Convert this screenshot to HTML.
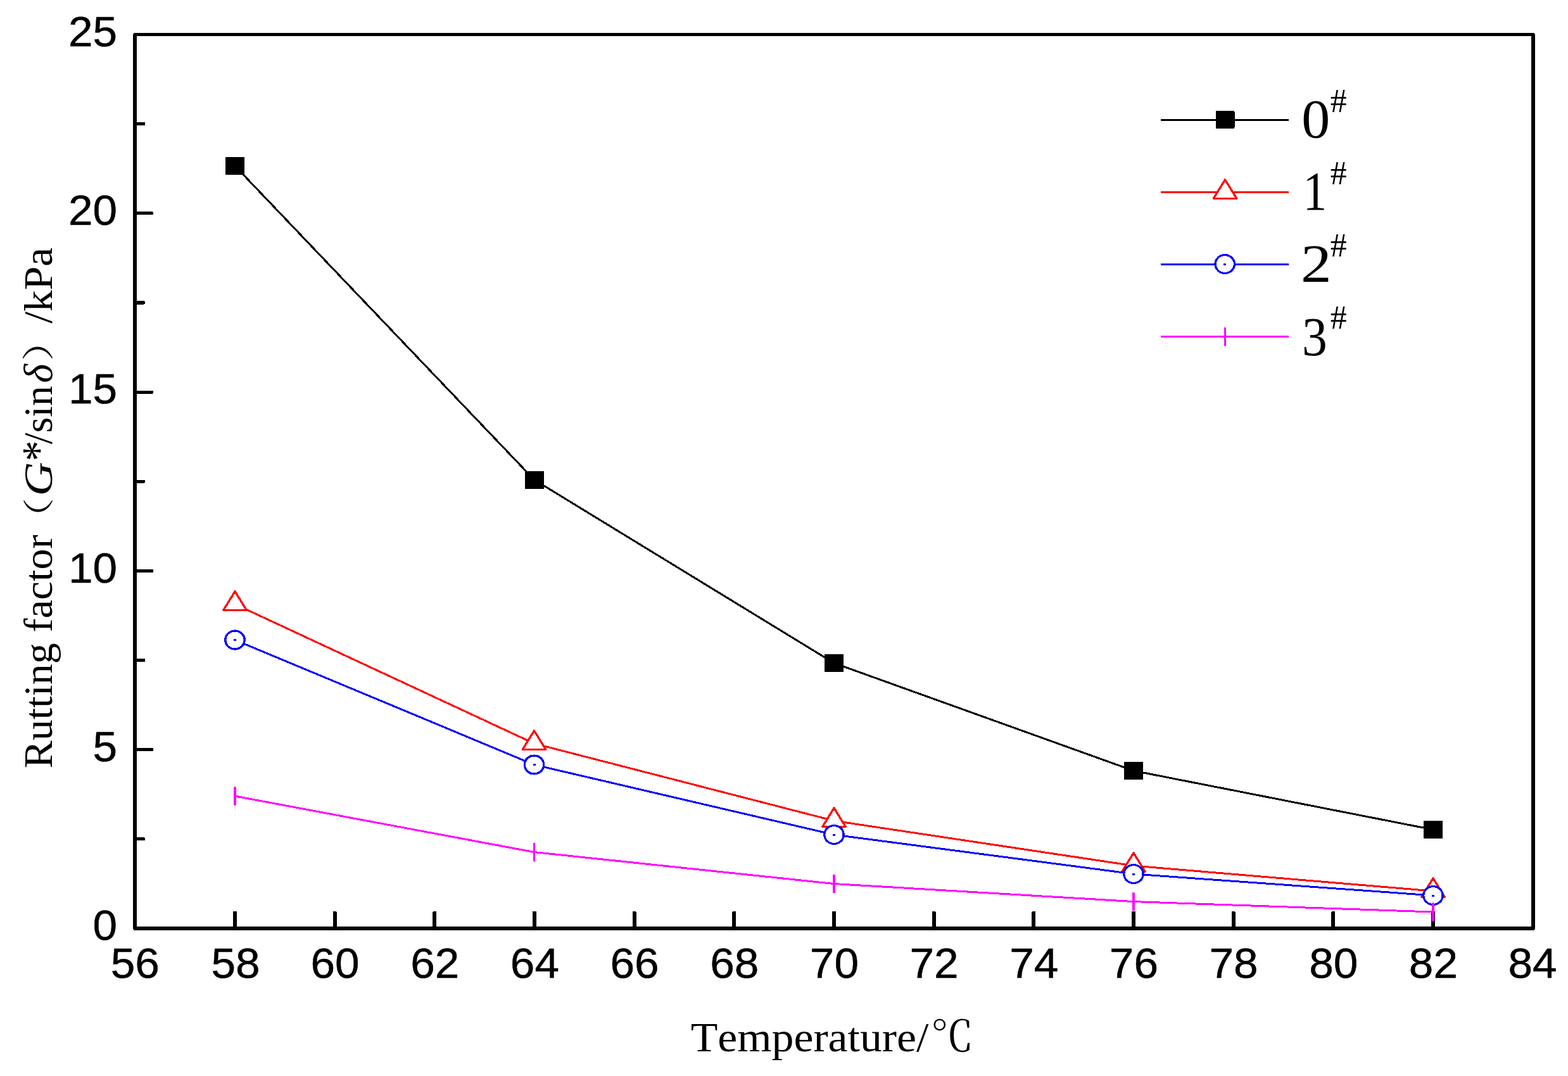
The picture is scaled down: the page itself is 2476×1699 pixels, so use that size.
<!DOCTYPE html>
<html lang="en"><head><meta charset="utf-8"><title>Chart</title>
<style>
html,body{margin:0;padding:0;background:#fff;}
body{width:2476px;height:1699px;}
svg{display:block;}
.tk{font-family:"Liberation Sans", Arial, Helvetica, sans-serif;fill:#000;}
.sf{font-family:"Liberation Serif", "Times New Roman", Times, serif;fill:#000;}
.cj{font-family:"Liberation Serif", "Noto Serif CJK SC", serif;fill:#000;}
text{paint-order:stroke;stroke:#000;stroke-linejoin:round;font-kerning:none;font-variant-ligatures:none;}
</style></head><body>
<svg width="2476" height="1699" viewBox="0 0 2476 1699" shape-rendering="crispEdges">
<rect x="0" y="0" width="2476" height="1699" fill="#fff"/>
<g id="frame" fill="#000">
<rect x="210" y="54" width="6" height="1413"/>
<rect x="2418" y="54" width="6" height="1413"/>
<rect x="211" y="52" width="2212" height="5"/>
<rect x="211" y="1463" width="2212" height="6"/>
<rect x="214" y="1322.2" width="15" height="5.2" rx="1.6"/>
<rect x="214" y="1181.1" width="28" height="5.2" rx="1.6"/>
<rect x="214" y="1040.0" width="15" height="5.2" rx="1.6"/>
<rect x="214" y="898.8" width="28" height="5.2" rx="1.6"/>
<rect x="214" y="757.6" width="15" height="5.2" rx="1.6"/>
<rect x="214" y="616.5" width="28" height="5.2" rx="1.6"/>
<rect x="214" y="475.3" width="15" height="5.2" rx="1.6"/>
<rect x="214" y="334.2" width="28" height="5.2" rx="1.6"/>
<rect x="214" y="193.1" width="15" height="5.2" rx="1.6"/>
<rect x="368.0" y="1439" width="6" height="26" rx="1.8"/>
<rect x="525.7" y="1439" width="6" height="26" rx="1.8"/>
<rect x="683.3" y="1439" width="6" height="26" rx="1.8"/>
<rect x="841.0" y="1439" width="6" height="26" rx="1.8"/>
<rect x="998.7" y="1439" width="6" height="26" rx="1.8"/>
<rect x="1156.3" y="1439" width="6" height="26" rx="1.8"/>
<rect x="1314.0" y="1439" width="6" height="26" rx="1.8"/>
<rect x="1471.7" y="1439" width="6" height="26" rx="1.8"/>
<rect x="1629.3" y="1439" width="6" height="26" rx="1.8"/>
<rect x="1787.0" y="1439" width="6" height="26" rx="1.8"/>
<rect x="1944.7" y="1439" width="6" height="26" rx="1.8"/>
<rect x="2102.3" y="1439" width="6" height="26" rx="1.8"/>
<rect x="2260.0" y="1439" width="6" height="26" rx="1.8"/>
</g>
<g id="series">
<polyline points="371.0,262.0 843.5,757.5 1317.0,1047.0 1790.0,1217.0 2263.0,1310.0" fill="none" stroke="#000" stroke-width="3.0" stroke-linejoin="round"/>
<rect x="356.0" y="248.0" width="30" height="28" fill="#000"/>
<rect x="828.5" y="743.5" width="30" height="28" fill="#000"/>
<rect x="1302.0" y="1033.0" width="30" height="28" fill="#000"/>
<rect x="1775.0" y="1203.0" width="30" height="28" fill="#000"/>
<rect x="2248.0" y="1296.0" width="30" height="28" fill="#000"/>
<polyline points="371.0,954.0 843.5,1174.0 1317.0,1296.0 1790.0,1367.0 2263.0,1407.0" fill="none" stroke="#f00" stroke-width="3.0" stroke-linejoin="round"/>
<path d="M371.0 933.8 L389.2 963.3 L352.8 963.3 Z" fill="#fff" stroke="#f00" stroke-width="3.3" stroke-linejoin="round"/>
<path d="M843.5 1153.8 L861.7 1183.3 L825.3 1183.3 Z" fill="#fff" stroke="#f00" stroke-width="3.3" stroke-linejoin="round"/>
<path d="M1317.0 1275.8 L1335.2 1305.3 L1298.8 1305.3 Z" fill="#fff" stroke="#f00" stroke-width="3.3" stroke-linejoin="round"/>
<path d="M1790.0 1346.8 L1808.2 1376.3 L1771.8 1376.3 Z" fill="#fff" stroke="#f00" stroke-width="3.3" stroke-linejoin="round"/>
<path d="M2263.0 1386.8 L2281.2 1416.3 L2244.8 1416.3 Z" fill="#fff" stroke="#f00" stroke-width="3.3" stroke-linejoin="round"/>
<polyline points="371.0,1010.5 843.5,1207.5 1317.0,1318.0 1790.0,1380.0 2263.0,1414.0" fill="none" stroke="#00f" stroke-width="3.0" stroke-linejoin="round"/>
<ellipse cx="371.0" cy="1010.5" rx="15.2" ry="14.4" fill="#fff" stroke="#00f" stroke-width="3.3"/><rect x="369.0" y="1009.0" width="4" height="3" fill="#00f"/>
<ellipse cx="843.5" cy="1207.5" rx="15.2" ry="14.4" fill="#fff" stroke="#00f" stroke-width="3.3"/><rect x="841.5" y="1206.0" width="4" height="3" fill="#00f"/>
<ellipse cx="1317.0" cy="1318.0" rx="15.2" ry="14.4" fill="#fff" stroke="#00f" stroke-width="3.3"/><rect x="1315.0" y="1316.5" width="4" height="3" fill="#00f"/>
<ellipse cx="1790.0" cy="1380.0" rx="15.2" ry="14.4" fill="#fff" stroke="#00f" stroke-width="3.3"/><rect x="1788.0" y="1378.5" width="4" height="3" fill="#00f"/>
<ellipse cx="2263.0" cy="1414.0" rx="15.2" ry="14.4" fill="#fff" stroke="#00f" stroke-width="3.3"/><rect x="2261.0" y="1412.5" width="4" height="3" fill="#00f"/>
<polyline points="371.0,1257.0 843.5,1345.5 1317.0,1395.5 1790.0,1423.6 2263.0,1440.0" fill="none" stroke="#f0f" stroke-width="3.0" stroke-linejoin="round"/>
<rect x="369.3" y="1242.0" width="3.4" height="30" rx="1.5" fill="#f0f"/>
<rect x="841.8" y="1330.5" width="3.4" height="30" rx="1.5" fill="#f0f"/>
<rect x="1315.3" y="1380.5" width="3.4" height="30" rx="1.5" fill="#f0f"/>
<rect x="1788.3" y="1408.6" width="3.4" height="30" rx="1.5" fill="#f0f"/>
<rect x="2261.3" y="1425.0" width="3.4" height="30" rx="1.5" fill="#f0f"/>
</g>
<g id="ticklabels" class="tk" font-size="66" stroke-width="0.5">
<text transform="translate(185.0 1484.3) scale(1.05 1.012)" text-anchor="end">0</text>
<text transform="translate(185.0 1202.0) scale(1.05 1.012)" text-anchor="end">5</text>
<text transform="translate(185.0 919.7) scale(1.05 1.012)" text-anchor="end">10</text>
<text transform="translate(185.0 637.4) scale(1.05 1.012)" text-anchor="end">15</text>
<text transform="translate(185.0 355.1) scale(1.05 1.012)" text-anchor="end">20</text>
<text transform="translate(185.0 72.8) scale(1.05 1.012)" text-anchor="end">25</text>
<text transform="translate(213.3 1544.0) scale(1.05 1.012)" text-anchor="middle">56</text>
<text transform="translate(372.0 1544.0) scale(1.05 1.012)" text-anchor="middle">58</text>
<text transform="translate(529.1 1544.0) scale(1.05 1.012)" text-anchor="middle">60</text>
<text transform="translate(686.7 1544.0) scale(1.05 1.012)" text-anchor="middle">62</text>
<text transform="translate(844.4 1544.0) scale(1.05 1.012)" text-anchor="middle">64</text>
<text transform="translate(1002.1 1544.0) scale(1.05 1.012)" text-anchor="middle">66</text>
<text transform="translate(1159.7 1544.0) scale(1.05 1.012)" text-anchor="middle">68</text>
<text transform="translate(1317.4 1544.0) scale(1.05 1.012)" text-anchor="middle">70</text>
<text transform="translate(1475.1 1544.0) scale(1.05 1.012)" text-anchor="middle">72</text>
<text transform="translate(1632.7 1544.0) scale(1.05 1.012)" text-anchor="middle">74</text>
<text transform="translate(1790.4 1544.0) scale(1.05 1.012)" text-anchor="middle">76</text>
<text transform="translate(1948.1 1544.0) scale(1.05 1.012)" text-anchor="middle">78</text>
<text transform="translate(2105.7 1544.0) scale(1.05 1.012)" text-anchor="middle">80</text>
<text transform="translate(2263.4 1544.0) scale(1.05 1.012)" text-anchor="middle">82</text>
<text transform="translate(2420.1 1544.0) scale(1.05 1.012)" text-anchor="middle">84</text>
</g>
<g id="xtitle"><text class="sf" transform="translate(1090.65 1659.90) scale(1.0575 1.0000)" font-size="66" stroke-width="0">Temperature/</text><text class="cj" transform="translate(1469.45 1659.60) scale(1.0303 1.0246)" font-size="66" stroke-width="0">℃</text></g>
<g id="ytitle"><text class="sf" transform="translate(81.70 1213.30) rotate(-90) scale(1.0010 0.9650)" font-size="66" stroke-width="0">Rutting factor</text><text class="cj" transform="translate(78.65 850.75) rotate(-90) scale(0.9846 0.7438)" font-size="66" stroke-width="0">（</text><text class="sf" font-style="italic" transform="translate(81.70 783.20) rotate(-90) scale(1.1306 0.9650)" font-size="66" stroke-width="0">G</text><text class="sf" transform="translate(85.80 728.35) rotate(-90) scale(0.9864 1.1125)" font-size="66" stroke-width="0">*</text><text class="sf" transform="translate(81.70 701.15) rotate(-90) scale(0.9655 0.9650)" font-size="66" stroke-width="0">/sin</text><text class="sf" font-style="italic" transform="translate(81.70 604.75) rotate(-90) scale(0.9758 0.9650)" font-size="66" stroke-width="0">δ</text><text class="cj" transform="translate(77.75 570.30) rotate(-90) scale(0.9855 0.7648)" font-size="66" stroke-width="0">）</text><text class="sf" transform="translate(81.70 510.85) rotate(-90) scale(1.0249 0.9650)" font-size="66" stroke-width="0">/kPa</text></g>
<g id="legend">
<rect x="1833" y="187.9" width="202" height="3.2" fill="#000"/>
<rect x="1919.5" y="175.0" width="30" height="28" rx="2" fill="#000"/>
<g><text class="sf" transform="translate(2055.15 217.10) scale(1.0715 1.0224)" font-size="84" stroke-width="0">0</text><text class="sf" transform="translate(2100.70 177.00) scale(0.9966 0.9968)" font-size="52" stroke-width="0">#</text></g>
<rect x="1833" y="301.7" width="202" height="3.2" fill="#f00"/>
<path d="M1934.5 283.8 L1952.7 313.3 L1916.3 313.3 Z" fill="#fff" stroke="#f00" stroke-width="3.3" stroke-linejoin="round"/>
<g><text class="sf" transform="translate(2057.55 331.20) scale(0.9000 1.0260)" font-size="84" stroke-width="0">1</text><text class="sf" transform="translate(2100.70 291.00) scale(0.9966 0.9968)" font-size="52" stroke-width="0">#</text></g>
<rect x="1833" y="415.8" width="202" height="3.2" fill="#00f"/>
<ellipse cx="1934.2" cy="417.0" rx="15.2" ry="14.4" fill="#fff" stroke="#00f" stroke-width="3.3"/><rect x="1932.2" y="415.5" width="4" height="3" fill="#00f"/>
<g><text class="sf" transform="translate(2054.00 444.80) scale(1.1592 0.9976)" font-size="84" stroke-width="0">2</text><text class="sf" transform="translate(2100.70 405.00) scale(0.9966 0.9968)" font-size="52" stroke-width="0">#</text></g>
<rect x="1833" y="529.9" width="202" height="3.2" fill="#f0f"/>
<rect x="1932.8" y="516.5" width="3.4" height="30" rx="1.5" fill="#f0f"/>
<g><text class="sf" transform="translate(2056.00 560.80) scale(0.9478 1.0321)" font-size="84" stroke-width="0">3</text><text class="sf" transform="translate(2100.70 519.00) scale(0.9966 0.9968)" font-size="52" stroke-width="0">#</text></g>
</g>
</svg></body></html>
